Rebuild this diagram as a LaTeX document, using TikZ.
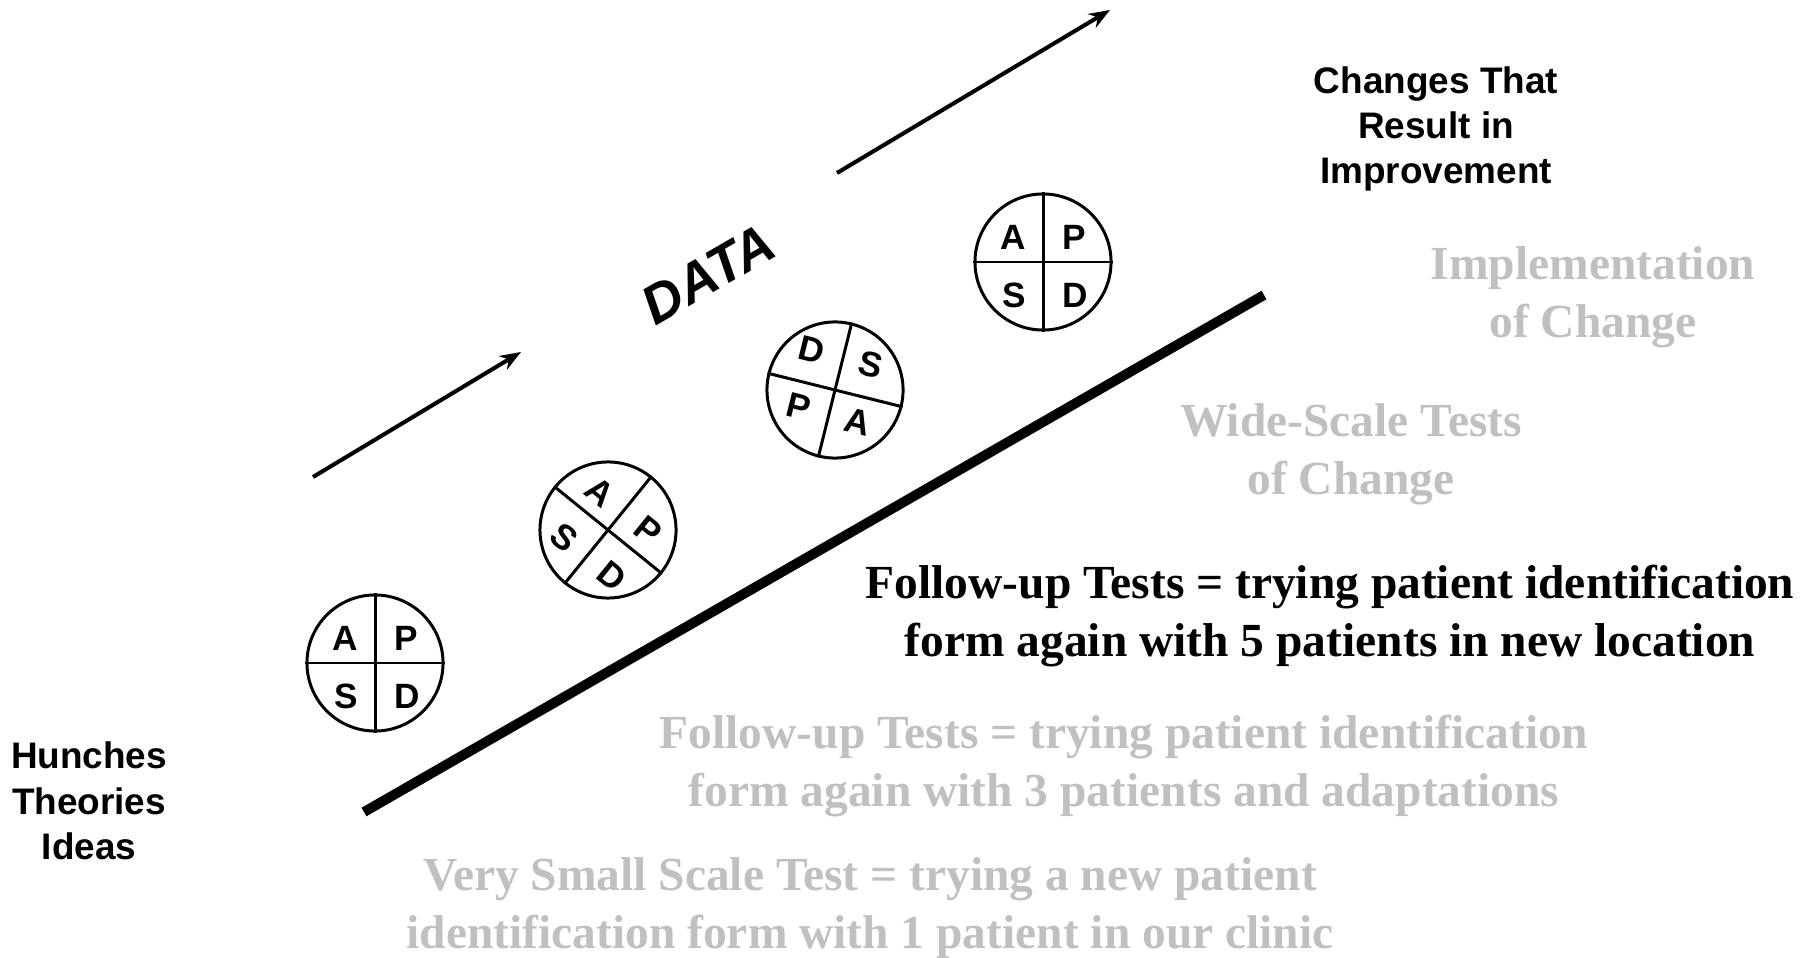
\documentclass[tikz,border=0pt]{standalone}
\usepackage{fontspec}
\setmainfont{Liberation Serif}
\setsansfont{Liberation Sans}
\usetikzlibrary{arrows.meta}

\definecolor{fadedgrey}{RGB}{192,192,192}
\tikzset{
  pdsa/.style={circle,draw,line width=0.85pt,minimum size=1.36cm,inner sep=0pt},
  quarter/.style={line width=0.85pt},
  cyc/.style={font=\sffamily\bfseries\fontsize{10}{12}\selectfont,inner sep=0pt},
  sanslbl/.style={font=\sffamily\bfseries\fontsize{10.5}{12.9}\selectfont,align=center},
  stage/.style={font=\rmfamily\bfseries\fontsize{13.5}{16.4}\selectfont,align=center,text=fadedgrey},
  datarrow/.style={line width=1.15pt,-{Stealth[length=6pt,width=4.5pt]}}
}

\begin{document}
\begin{tikzpicture}[x=0.01cm,y=0.01cm]
  \useasboundingbox (0,0) rectangle (1813,957);
  \coordinate (lo) at (364,145);
  \coordinate (hi) at (1264,662);
  \draw[line width=2.8pt] (lo) -- (hi);
  \coordinate (a1s) at (313,480);
  \coordinate (a1e) at (521,605);
  \coordinate (a2s) at (837,784);
  \coordinate (a2e) at (1110,947);
  \draw[datarrow] (a1s) -- (a1e);
  \draw[datarrow] (a2s) -- (a2e);
  \node[rotate=30,font=\sffamily\bfseries\itshape\fontsize{15.5}{18}\selectfont] (data) at (708,683) {DATA};

  \begin{scope}[shift={(375,294)}]
    \node[pdsa] (c1) at (0,0) {};
    \draw[quarter] (c1.north) -- (c1.south);
    \draw[quarter] (c1.west) -- (c1.east);
    \node[cyc] (c1a) at (-30,25) {A};
    \node[cyc] (c1p) at (31,25) {P};
    \node[cyc] (c1s) at (-29,-33) {S};
    \node[cyc] (c1d) at (32,-33) {D};
  \end{scope}
  \begin{scope}[shift={(608,427)},rotate=-39]
    \node[pdsa,rotate=-39] (c2) at (0,0) {};
    \draw[quarter] (c2.north) -- (c2.south);
    \draw[quarter] (c2.west) -- (c2.east);
    \node[cyc,rotate=-39] (c2a) at (-30,25) {A};
    \node[cyc,rotate=-39] (c2p) at (31,25) {P};
    \node[cyc,rotate=-39] (c2s) at (-29,-33) {S};
    \node[cyc,rotate=-39] (c2d) at (32,-33) {D};
  \end{scope}
  \begin{scope}[shift={(835,567)},rotate=166]
    \node[pdsa,rotate=166] (c3) at (0,0) {};
    \draw[quarter] (c3.north) -- (c3.south);
    \draw[quarter] (c3.west) -- (c3.east);
    \node[cyc,rotate=-14] (c3a) at (-30,25) {A};
    \node[cyc,rotate=-14] (c3p) at (31,25) {P};
    \node[cyc,rotate=-14] (c3s) at (-29,-33) {S};
    \node[cyc,rotate=-14] (c3d) at (32,-33) {D};
  \end{scope}
  \begin{scope}[shift={(1043,695)}]
    \node[pdsa] (c4) at (0,0) {};
    \draw[quarter] (c4.north) -- (c4.south);
    \draw[quarter] (c4.west) -- (c4.east);
    \node[cyc] (c4a) at (-30,25) {A};
    \node[cyc] (c4p) at (31,25) {P};
    \node[cyc] (c4s) at (-29,-33) {S};
    \node[cyc] (c4d) at (32,-33) {D};
  \end{scope}

  \node[sanslbl] (chg) at (1436,828) {Changes That\\Result in\\Improvement};
  \node[sanslbl] (hti) at (89,156) {Hunches\\Theories\\Ideas};
  \node[stage] (impl) at (1593,660) {Implementation\\of Change};
  \node[stage] (wide) at (1351,503) {Wide-Scale Tests\\of Change};
  \node[stage,text=black] (fu5) at (1330,341) {Follow-up Tests = trying patient identification\\form again with 5 patients in new location};
  \node[stage] (fu3) at (1124,191) {Follow-up Tests = trying patient identification\\form again with 3 patients and adaptations};
  \node[stage] (vss) at (870,49) {Very Small Scale Test = trying a new patient\\identification form with 1 patient in our clinic};
\end{tikzpicture}
\end{document}
